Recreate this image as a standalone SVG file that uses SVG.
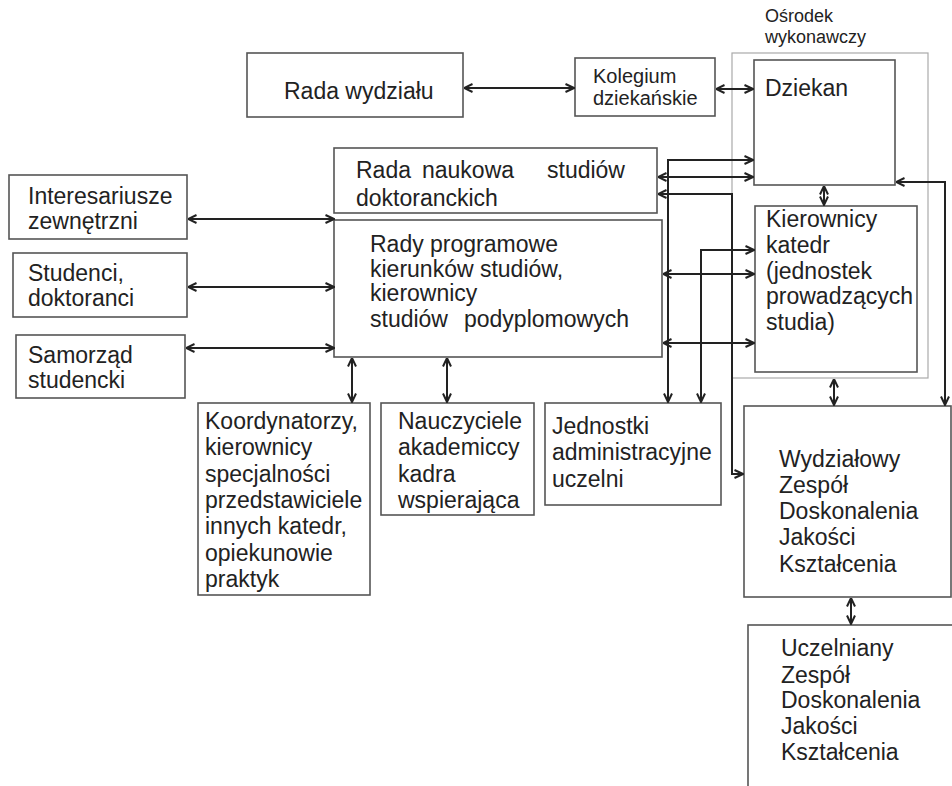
<svg xmlns="http://www.w3.org/2000/svg" width="952" height="786" viewBox="0 0 952 786">
<style>
.box{fill:#fff;stroke:#555;stroke-width:1.6}
.grp{fill:none;stroke:#aaa;stroke-width:1.2}
.t{font-family:"Liberation Sans",Arial,sans-serif;font-size:23px;fill:#222}
.s{font-family:"Liberation Sans",Arial,sans-serif;font-size:20px;fill:#222}
.c{fill:none;stroke:#222;stroke-width:2;marker-start:url(#a);marker-end:url(#a)}
</style>
<defs>
<marker id="a" viewBox="0 0 10 10" refX="9.5" refY="5" markerWidth="10" markerHeight="10" markerUnits="userSpaceOnUse" orient="auto-start-reverse">
<path d="M1,1 L9.5,5 L1,9" fill="none" stroke="#222" stroke-width="2"/>
</marker>
</defs>
<rect width="952" height="786" fill="#fff"/>

<g id="osrodek">
<rect class="grp" x="732" y="53" width="196" height="325"/>
<text class="s" style="font-size:18px"><tspan x="765" y="22">Ośrodek</tspan><tspan x="765" y="43">wykonawczy</tspan></text>
</g>

<g id="rada-wydzialu">
<rect class="box" x="247" y="53" width="216" height="64"/>
<text class="t" x="284" y="99">Rada wydziału</text>
</g>

<g id="kolegium">
<rect class="box" x="575" y="58" width="140" height="58"/>
<text class="s"><tspan x="593" y="83">Kolegium</tspan><tspan x="593" y="105">dziekańskie</tspan></text>
</g>

<g id="dziekan">
<rect class="box" x="754" y="60" width="141" height="125"/>
<text class="t" x="765" y="96">Dziekan</text>
</g>

<g id="kierownicy-katedr">
<rect class="box" x="755" y="206" width="162" height="166"/>
<text class="t"><tspan x="766" y="227">Kierownicy</tspan><tspan x="766" y="253">katedr</tspan><tspan x="766" y="279">(jednostek</tspan><tspan x="766" y="304">prowadzących</tspan><tspan x="766" y="330">studia)</tspan></text>
</g>

<g id="rada-naukowa">
<rect class="box" x="334" y="148" width="323" height="65"/>
<text class="t"><tspan x="356" y="178">Rada</tspan><tspan x="422" y="178">naukowa</tspan><tspan x="547" y="178">studiów</tspan><tspan x="356" y="206">doktoranckich</tspan></text>
</g>

<g id="rady-programowe">
<rect class="box" x="334" y="220" width="328" height="137"/>
<text class="t"><tspan x="370" y="252">Rady programowe</tspan><tspan x="370" y="277">kierunków studiów,</tspan><tspan x="370" y="301">kierownicy</tspan><tspan x="370" y="327">studiów</tspan><tspan x="464" y="327">podyplomowych</tspan></text>
</g>

<g id="interesariusze">
<rect class="box" x="9" y="175" width="178" height="64"/>
<text class="t"><tspan x="28" y="204">Interesariusze</tspan><tspan x="28" y="229">zewnętrzni</tspan></text>
</g>

<g id="studenci">
<rect class="box" x="13" y="253" width="174" height="64"/>
<text class="t"><tspan x="28" y="281">Studenci,</tspan><tspan x="28" y="306">doktoranci</tspan></text>
</g>

<g id="samorzad">
<rect class="box" x="16" y="335" width="169" height="63"/>
<text class="t"><tspan x="28" y="363">Samorząd</tspan><tspan x="28" y="388">studencki</tspan></text>
</g>

<g id="koordynatorzy">
<rect class="box" x="198" y="403" width="172" height="192"/>
<text class="t"><tspan x="205" y="429">Koordynatorzy,</tspan><tspan x="205" y="455">kierownicy</tspan><tspan x="205" y="482">specjalności</tspan><tspan x="205" y="508">przedstawiciele</tspan><tspan x="205" y="534">innych katedr,</tspan><tspan x="205" y="561">opiekunowie</tspan><tspan x="205" y="587">praktyk</tspan></text>
</g>

<g id="nauczyciele">
<rect class="box" x="381" y="403" width="153" height="112"/>
<text class="t"><tspan x="398" y="429">Nauczyciele</tspan><tspan x="398" y="455">akademiccy</tspan><tspan x="398" y="482">kadra</tspan><tspan x="398" y="508">wspierająca</tspan></text>
</g>

<g id="jednostki">
<rect class="box" x="545" y="403" width="176" height="102"/>
<text class="t"><tspan x="552" y="434">Jednostki</tspan><tspan x="552" y="460">administracyjne</tspan><tspan x="552" y="487">uczelni</tspan></text>
</g>

<g id="wydzialowy-zespol">
<rect class="box" x="744" y="406" width="207" height="191"/>
<text class="t"><tspan x="779" y="467">Wydziałowy</tspan><tspan x="779" y="493">Zespół</tspan><tspan x="779" y="519">Doskonalenia</tspan><tspan x="779" y="545">Jakości</tspan><tspan x="779" y="572">Kształcenia</tspan></text>
</g>

<g id="uczelniany-zespol">
<rect class="box" x="748" y="625" width="220" height="200"/>
<text class="t"><tspan x="781" y="656">Uczelniany</tspan><tspan x="781" y="683">Zespół</tspan><tspan x="781" y="708">Doskonalenia</tspan><tspan x="781" y="734">Jakości</tspan><tspan x="781" y="760">Kształcenia</tspan></text>
</g>

<g id="connectors">
<path class="c" d="M464,88 H574"/>
<path class="c" d="M716,89 H753"/>
<path class="c" d="M824,186 V205"/>
<path class="c" d="M834,379 V405"/>
<path class="c" d="M896,182 H945 V405"/>
<path class="c" d="M851,598 V624"/>
<path class="c" d="M188,219 H334"/>
<path class="c" d="M188,287 H334"/>
<path class="c" d="M186,348 H334"/>
<path class="c" d="M352,358 V402"/>
<path class="c" d="M447,358 V402"/>
<path class="c" d="M668,402 V160 H753"/>
<path class="c" d="M658,177 H753"/>
<path class="c" d="M658,194 H732 V474 H743"/>
<path class="c" d="M701,402 V250 H754"/>
<path class="c" d="M663,274 H754"/>
<path class="c" d="M663,343 H754"/>
</g>
</svg>
